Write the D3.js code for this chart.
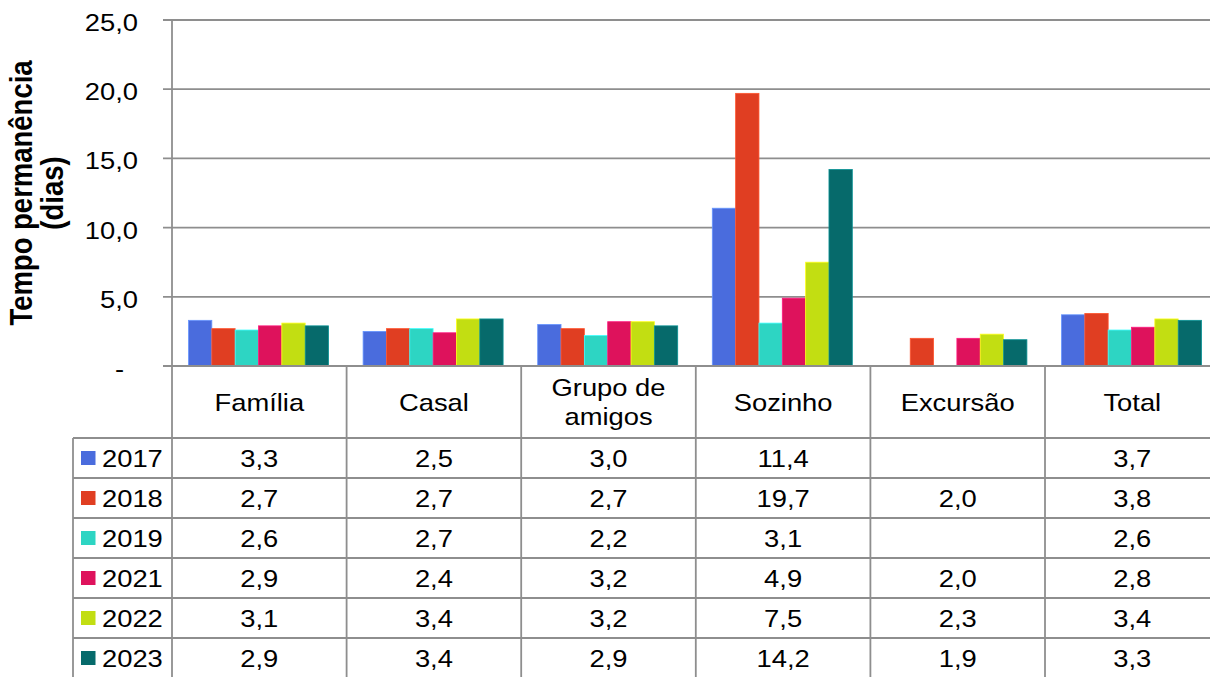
<!DOCTYPE html>
<html><head><meta charset="utf-8">
<script src="https://cdn.jsdelivr.net/npm/d3@7"></script>
<style>
html,body{margin:0;padding:0;background:#fff;}
svg{display:block;font-family:"Liberation Sans",Arial,sans-serif;}
</style></head>
<body><svg id="c" width="1210" height="677"></svg>
<script>
const categories = ["Família","Casal","Grupo de amigos","Sozinho","Excursão","Total"];
const categoryLines = [["Família"],["Casal"],["Grupo de","amigos"],["Sozinho"],["Excursão"],["Total"]];
const years = ["2017","2018","2019","2021","2022","2023"];
const v2017 = [3.3, 2.5, 3.0, 11.4, null, 3.7];
const v2018 = [2.7, 2.7, 2.7, 19.7, 2.0, 3.8];
const v2019 = [2.6, 2.7, 2.2, 3.1, null, 2.6];
const v2021 = [2.9, 2.4, 3.2, 4.9, 2.0, 2.8];
const v2022 = [3.1, 3.4, 3.2, 7.5, 2.3, 3.4];
const v2023 = [2.9, 3.4, 2.9, 14.2, 1.9, 3.3];
const series = [v2017, v2018, v2019, v2021, v2022, v2023];
const colors = ["#4A6CDD","#E03E22","#2DD5C3","#DE125C","#C2DE12","#066A6B"];
const yTicks = [0,5,10,15,20,25];
const yTitle = ["Tempo permanência","(dias)"];

(function(){
const svg = d3.select("#c");
const SX = 1.14;
const lineCol = "#8e8e8e", lw = 1.8;
const plotLeft = 172, plotTop = 20, base = 366, step = 174.6;
const tableLeft = 73, headerBottom = 438, rowH = 40;

const x = d3.scaleBand().domain(categories).range([plotLeft, plotLeft + step*categories.length]).padding(0);
const xi = d3.scaleBand().domain(years).range([16.5, 156.5]).padding(0);
const y = d3.scaleLinear().domain([0,25]).range([base, plotTop]);

// gridlines
svg.append("g").selectAll("line").data(yTicks.filter(d=>d>0)).join("line")
  .attr("x1", plotLeft-9).attr("x2", 1210).attr("y1", d=>y(d)).attr("y2", d=>y(d))
  .attr("stroke", lineCol).attr("stroke-width", lw);

// y axis labels
const yAxis = d3.axisLeft(y).tickValues(yTicks).tickSize(0)
  .tickFormat(d => d===0 ? "-" : d3.format(".1f")(d).replace(".",","));
const ga = svg.append("g").attr("transform", `translate(${plotLeft},0)`).call(yAxis);
ga.select(".domain").remove();
ga.selectAll(".tick text").each(function(d){
  const t = d3.select(this);
  const xr = d===0 ? 124 : 138;
  t.attr("x", null).attr("dy", null).attr("y", null)
   .attr("transform", `translate(${xr-plotLeft},10.5) scale(${SX},1)`)
   .attr("text-anchor","end").attr("font-size",24).attr("fill","#000")
   .attr("font-family",'"Liberation Sans",Arial,sans-serif');
});

// bars
const bars = svg.append("g");
series.forEach((vals, si) => {
  bars.selectAll(null).data(categories.map((c,i)=>({c, v: vals[i]})).filter(d=>d.v!=null)).join("rect")
    .attr("x", d => x(d.c) + xi(years[si]))
    .attr("width", xi.bandwidth())
    .attr("y", d => y(d.v))
    .attr("height", d => base - y(d.v))
    .attr("fill", colors[si])
    .attr("stroke", d3.color(colors[si]).brighter(0.9))
    .attr("stroke-width", 0.8);
});

// table lines
const tg = svg.append("g").attr("stroke", lineCol).attr("stroke-width", lw);
tg.append("line").attr("x1", plotLeft-9).attr("x2", 1210).attr("y1", base).attr("y2", base);
tg.append("line").attr("x1", plotLeft).attr("x2", plotLeft).attr("y1", plotTop).attr("y2", 677);
tg.selectAll(null).data(categories.slice(1)).join("line")
  .attr("x1", d=>x(d)).attr("x2", d=>x(d)).attr("y1", base).attr("y2", 677);
tg.append("line").attr("x1", tableLeft).attr("x2", tableLeft).attr("y1", headerBottom).attr("y2", 677);
tg.selectAll(null).data(d3.range(years.length)).join("line")
  .attr("x1", tableLeft).attr("x2", 1210)
  .attr("y1", i=>headerBottom + i*rowH).attr("y2", i=>headerBottom + i*rowH);

// header labels
const hg = svg.append("g").attr("font-size",24).attr("fill","#000").attr("text-anchor","middle");
categories.forEach((c,i)=>{
  const lines = categoryLines[i];
  const cx = x(c) + step/2;
  lines.forEach((ln,j)=>{
    const by = lines.length===1 ? 411 : (j===0 ? 396 : 425);
    hg.append("text").attr("transform", `translate(${cx},${by}) scale(${SX},1)`).text(ln);
  });
});

// table values + legend
const vg = svg.append("g").attr("font-size",24).attr("fill","#000");
years.forEach((yr, si)=>{
  const cy = headerBottom + si*rowH + rowH/2;
  vg.append("rect").attr("x",81).attr("y",cy-7).attr("width",14.5).attr("height",14).attr("fill",colors[si]);
  vg.append("text").attr("transform", `translate(102,${cy+9}) scale(${SX},1)`).text(yr);
  series[si].forEach((v,i)=>{
    if (v==null) return;
    vg.append("text").attr("text-anchor","middle")
      .attr("transform", `translate(${x(categories[i]) + step/2},${cy+9}) scale(${SX},1)`)
      .text(d3.format(".1f")(v).replace(".",","));
  });
});

// y title
const tt = svg.append("g").attr("transform", `translate(0,193) scale(${SX},1) rotate(-90)`);
tt.append("text").attr("text-anchor","middle").attr("y",28).attr("font-size",27.5).attr("font-weight","bold").text(yTitle[0]);
tt.append("text").attr("text-anchor","middle").attr("y",55.3).attr("font-size",27.5).attr("font-weight","bold").text(yTitle[1]);
})();
</script></body></html>
